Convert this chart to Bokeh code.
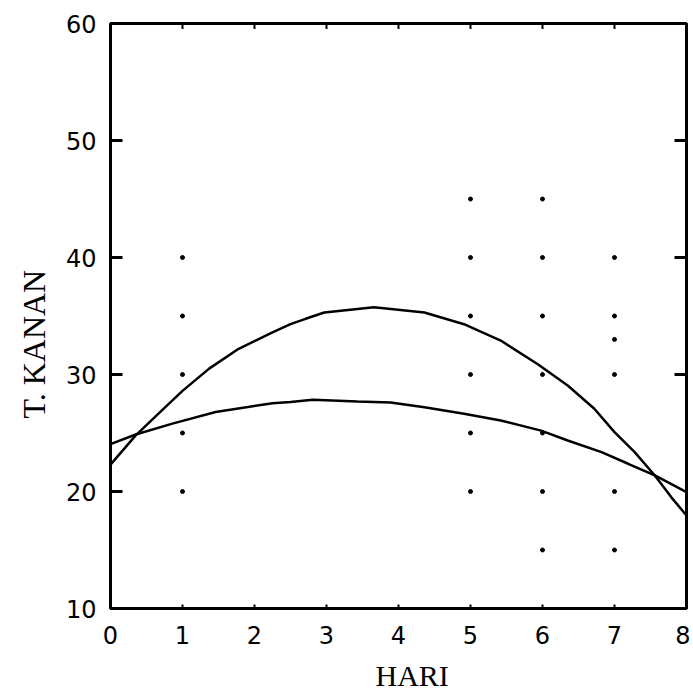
from bokeh.plotting import figure
from bokeh.models import Range1d, FixedTicker, Title
from bokeh.embed import file_html
from bokeh.resources import INLINE

# --- data ---
hari_upper = [0.0, 0.35, 0.63, 1.0, 1.37, 1.78, 2.25, 2.5, 2.71, 2.97, 3.66, 4.36, 4.91,
              5.42, 5.93, 6.35, 6.72, 7.0, 7.28, 7.56, 7.79, 8.0]
kanan_upper = [22.3, 24.8, 26.45, 28.6, 30.5, 32.2, 33.6, 34.3, 34.76, 35.3, 35.75, 35.3, 34.3,
               32.9, 30.9, 29.06, 27.07, 25.07, 23.36, 21.37, 19.5, 17.95]

hari_lower = [0.0, 0.35, 0.86, 1.46, 2.25, 2.5, 2.81, 3.43, 3.89, 4.36, 4.91, 5.42, 5.98,
              6.35, 6.82, 7.19, 7.56, 7.83, 8.0]
kanan_lower = [24.05, 24.87, 25.8, 26.8, 27.55, 27.65, 27.85, 27.7, 27.6, 27.2, 26.65, 26.07, 25.2,
               24.36, 23.36, 22.37, 21.37, 20.5, 19.94]

dot_x = [1, 1, 1, 1, 1, 5, 6, 5, 6, 7, 5, 6, 7, 7, 5, 6, 7, 5, 6, 5, 6, 7, 6, 7]
dot_y = [40, 35, 30, 25, 20, 45, 45, 40, 40, 40, 35, 35, 35, 33, 30, 30, 30, 25, 25, 20, 20, 20, 15, 15]

x_ticks = [0, 1, 2, 3, 4, 5, 6, 7, 8]
y_ticks = [10, 20, 30, 40, 50, 60]
top_ticks = [1, 2, 3, 4, 5, 6, 7]
right_ticks = [30, 40, 50]

x_title = "HARI"
y_title = "T. KANAN"

x_min, x_max = 0, 8
y_min, y_max = 10, 60

p = figure(frame_width=576, frame_height=585,
           x_range=Range1d(x_min, x_max), y_range=Range1d(y_min, y_max),
           output_backend="svg", toolbar_location=None,
           min_border_left=110, min_border_right=4,
           min_border_top=23, min_border_bottom=84)

p.grid.visible = False
p.outline_line_color = "black"
p.outline_line_width = 3
p.background_fill_color = "white"
p.border_fill_color = "white"

tick_font = "DejaVu Sans"

xa = p.xaxis[0]
xa.ticker = FixedTicker(ticks=x_ticks)
xa.major_tick_in = 4
xa.major_tick_out = 0
xa.minor_tick_line_color = None
xa.major_tick_line_width = 2
xa.axis_line_width = 3
xa.major_label_text_font = tick_font
xa.major_label_text_font_size = "24px"
xa.major_label_text_color = "black"
xa.major_label_standoff = 17

ya = p.yaxis[0]
ya.ticker = FixedTicker(ticks=y_ticks)
ya.major_tick_in = 12
ya.major_tick_out = 0
ya.minor_tick_line_color = None
ya.major_tick_line_width = 3
ya.axis_line_width = 3
ya.major_label_text_font = tick_font
ya.major_label_text_font_size = "24px"
ya.major_label_text_color = "black"
ya.major_label_standoff = 14

# inner tick marks along the top and right edges (the outer half of each mark is clipped by the frame)
p.scatter(top_ticks, [y_max] * len(top_ticks), marker="cross",
          size=11, line_width=2, color="black")
p.scatter([x_max] * len(right_ticks), right_ticks, marker="dash",
          size=24, line_width=3, color="black")

p.line(hari_upper, kanan_upper, line_color="black", line_width=2.5)
p.line(hari_lower, kanan_lower, line_color="black", line_width=2.5)
p.scatter(dot_x, dot_y, size=4, color="black")

p.add_layout(Title(text=x_title, align="left", offset=265, standoff=20,
                   text_font="Liberation Serif", text_font_size="30px",
                   text_font_style="normal", text_color="black"), "below")
p.add_layout(Title(text=y_title, align="left", offset=190, standoff=22,
                   text_font="Liberation Serif", text_font_size="32px",
                   text_font_style="normal", text_color="black"), "left")

open("out.html", "w").write(file_html(p, INLINE))
